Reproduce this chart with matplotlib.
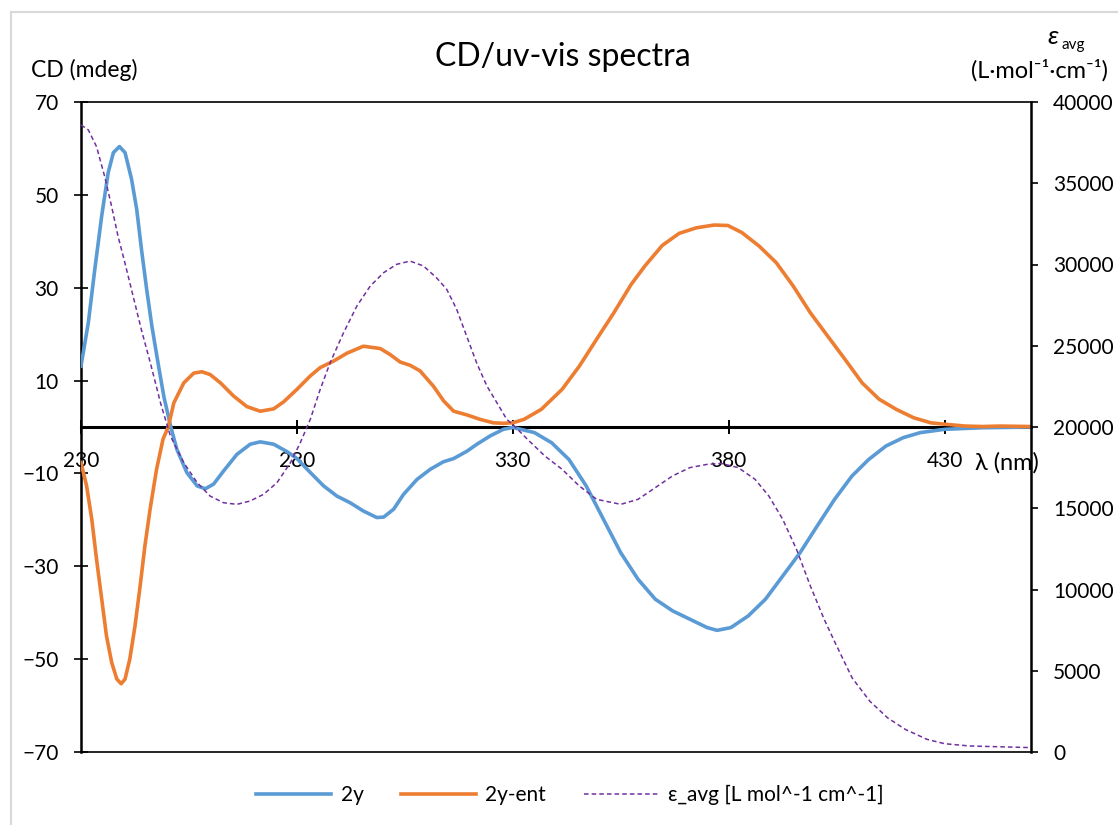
import matplotlib
matplotlib.use("Agg")
import matplotlib.pyplot as plt
from matplotlib.patches import Rectangle

plt.rcParams['font.family'] = ['Lato', 'DejaVu Sans']

# 2y (CD, mdeg)
wl_2y = [230, 231.7, 233.2, 234.8, 236.3, 237.5, 238.9, 240.2, 241.7, 242.9,
         244.0, 245.2, 246.4, 247.8, 249.2, 250.8, 252.2, 254.5, 256.9, 258.8,
         260.7, 263, 266.1, 269.2, 271.5, 274.6, 277.7, 280, 283.1, 286.2,
         289.3, 292.3, 295.4, 298.5, 300.1, 302.4, 304.7, 307.8, 310.9, 313.9,
         316.3, 319.4, 321.7, 324.8, 327.8, 330, 335, 339, 343, 347, 351, 355,
         359, 363, 367, 371, 375, 377.3, 380.5, 384.5, 388.5, 392.5, 396.5,
         400.5, 404.5, 408.5, 412.4, 416.4, 420.4, 424.4, 430, 438.8, 450]
cd_2y = [13.1, 22.5, 34.0, 45.5, 54.8, 59.1, 60.4, 59.1, 53.4, 46.9,
         38.3, 29.7, 21.8, 14.0, 6.5, 0, -4.8, -9.8, -12.7, -13.3,
         -12.3, -9.5, -5.9, -3.7, -3.2, -3.7, -5.3, -6.8, -9.8, -12.7,
         -14.9, -16.3, -18.1, -19.5, -19.4, -17.7, -14.5, -11.3, -9.1, -7.5,
         -6.8, -5.2, -3.7, -1.9, -0.5, -0.1, -1.2, -3.4, -7.0, -12.7, -19.9, -27.1,
         -32.8, -37.1, -39.6, -41.4, -43.2, -43.8, -43.2, -40.7, -37.1, -32.1, -27.1,
         -21.3, -15.6, -10.6, -7.0, -4.1, -2.3, -1.2, -0.5, -0.15, 0]

# 2y-ent (CD, mdeg)
wl_ent = [230, 231.3, 232.5, 233.6, 234.8, 235.9, 237.1, 238.3, 239.3, 240.2,
          241.3, 242.5, 243.7, 244.8, 246, 247.5, 249, 250.2, 251.5, 253.8,
          256.1, 258, 259.9, 262.3, 265.3, 268.4, 271.5, 274.6, 276.9, 280,
          283.1, 285.4, 288.5, 291.6, 295.4, 299.3, 301.6, 303.9, 306.2, 308.5,
          311.6, 314, 316.3, 319.4, 322.4, 325.5, 327.8, 330, 332.6, 336.6,
          341.4, 345.4, 349.4, 353.4, 357.4, 360.6, 364.6, 368.5, 372.5, 376.6,
          379.8, 383, 387, 391, 394.9, 398.9, 402.9, 406.9, 410.9, 414.8,
          418.8, 422.8, 426.8, 430, 434.8, 438.8, 442.8, 450]
cd_ent = [-7.7, -12.7, -19.9, -28.5, -37.1, -45.0, -50.7, -54.3, -55.3, -54.3,
          -50.0, -42.9, -34.2, -25.6, -17.7, -9.1, -2.6, 0, 5.2, 9.5,
          11.6, 11.9, 11.3, 9.5, 6.7, 4.4, 3.4, 3.9, 5.4, 8.1,
          11.0, 12.8, 14.2, 15.9, 17.4, 16.9, 15.6, 14.0, 13.3, 12.1,
          8.8, 5.6, 3.4, 2.6, 1.65, 0.9, 0.8, 0.9, 1.65, 3.8,
          8.1, 13.1, 18.9, 24.6, 30.7, 34.7, 39.1, 41.7, 42.9, 43.5,
          43.4, 41.9, 39.0, 35.4, 30.4, 24.6, 19.6, 14.6, 9.5, 6.0,
          3.8, 2.0, 0.9, 0.6, 0.2, 0.1, 0.2, 0.1]

# epsilon_avg (L mol^-1 cm^-1)
wl_eps = [230, 231.7, 233.6, 235.5, 237.1, 238.6, 240.2, 242.1, 244, 246.2,
          248.5, 250.7, 253.8, 256.9, 259.9, 263, 266.1, 269.2, 272.3, 275.4,
          278.5, 280.8, 283.1, 285.4, 287.7, 290.8, 293.9, 297, 300.1, 303.1,
          306.2, 309.3, 312.3, 314.7, 317, 319.3, 321.6, 324, 326.3, 328.6,
          330.2, 333.4, 337.4, 341.4, 345.4, 349.4, 355, 359, 363, 367,
          371, 375, 378.2, 382.2, 386.1, 389.3, 392.5, 395.7, 398.9, 402.1,
          404.5, 408.6, 412.7, 416.8, 420.9, 425.9, 430, 435.8, 450]
eps = [38590, 38280, 37250, 35400, 33560, 31710, 30070, 28020, 25970, 23800,
       21400, 19450, 17800, 16580, 15750, 15340, 15240, 15450, 15860, 16580,
       17800, 19040, 20470, 22320, 23960, 25800, 27450, 28680, 29500, 30010,
       30210, 29910, 29190, 28470, 27240, 25600, 23960, 22520, 21500, 20470,
       20100, 19240, 18220, 17400, 16370, 15550, 15240, 15550, 16270, 16990,
       17500, 17700, 17760, 17500, 16780, 15750, 14320, 12470, 10220, 8170,
       6800, 4550, 3120, 2100, 1390, 780, 510, 370, 270]

x_ticks = [230, 280, 330, 380, 430]
cd_ticks = [-70, -50, -30, -10, 10, 30, 50, 70]
eps_ticks = list(range(0, 40001, 5000))

blue = '#5B9BD5'
orange = '#ED7D31'
purple = '#7030A0'

fig = plt.figure(figsize=(11.18, 8.25), dpi=100)
ax = fig.add_axes([81 / 1118, 1 - 752 / 825, 950 / 1118, 650 / 825])
ax2 = ax.twinx()

l1, = ax.plot(wl_2y, cd_2y, color=blue, lw=2.6, label='2y', zorder=3,
              solid_joinstyle='round')
l2, = ax.plot(wl_ent, cd_ent, color=orange, lw=2.6, label='2y-ent', zorder=3,
              solid_joinstyle='round')
l3, = ax2.plot(wl_eps, eps, color=purple, lw=1.1, ls=(0, (3, 2)),
               label='ε_avg [L mol^-1 cm^-1]')

ax.set_xlim(230, 450)
ax.set_ylim(-70, 70)
ax2.set_ylim(0, 40000)
ax.set_xticks(x_ticks)
ax.set_yticks(cd_ticks)
ax2.set_yticks(eps_ticks)

ax.spines['bottom'].set_position(('data', 0))
ax.spines['bottom'].set_linewidth(2.2)
ax.spines['left'].set_linewidth(1.8)
ax.spines['top'].set_linewidth(1.2)
ax.spines['right'].set_visible(False)
for s in ['left', 'top', 'bottom']:
    ax2.spines[s].set_visible(False)
ax2.spines['right'].set_linewidth(1.8)
ax.axhline(-70, color='black', lw=1.2, clip_on=False)

ax.tick_params(axis='x', direction='inout', length=10, width=1.4, pad=12,
               labelsize=15)
ax.tick_params(axis='y', direction='inout', length=10, width=1.2, pad=11,
               labelsize=15)
ax2.tick_params(axis='y', direction='out', length=5, width=1.2, pad=11,
                labelsize=15)

fig.text(563 / 1118, 1 - 57 / 825, 'CD/uv-vis spectra', ha='center',
         va='center', fontsize=23)
fig.text(31 / 1118, 1 - 70 / 825, 'CD (mdeg)', ha='left', va='center',
         fontsize=16.5)
fig.text(1053 / 1118, 1 - 36 / 825, 'ε', ha='center', va='center',
         fontsize=19, style='italic')
fig.text(1062 / 1118, 1 - 45 / 825, 'avg', ha='left', va='center',
         fontsize=11)
fig.text(1108 / 1118, 1 - 70 / 825, '(L·mol⁻¹·cm⁻¹)', ha='right',
         va='center', fontsize=17)
fig.text(975 / 1118, 1 - 463 / 825, 'λ (nm)', ha='left', va='center',
         fontsize=17)

fig.legend(handles=[l1, l2, l3], loc='center',
           bbox_to_anchor=(570 / 1118, 1 - 795 / 825), ncol=3, frameon=False,
           fontsize=15, handlelength=3.6, handletextpad=0.45,
           columnspacing=1.8)

fig.add_artist(Rectangle((11 / 1118, -0.05), 1.1, 1 - 12 / 825 + 0.05,
                         transform=fig.transFigure, fill=False,
                         edgecolor='#D9D9D9', lw=1.5))

fig.savefig('out.png', dpi=100)
